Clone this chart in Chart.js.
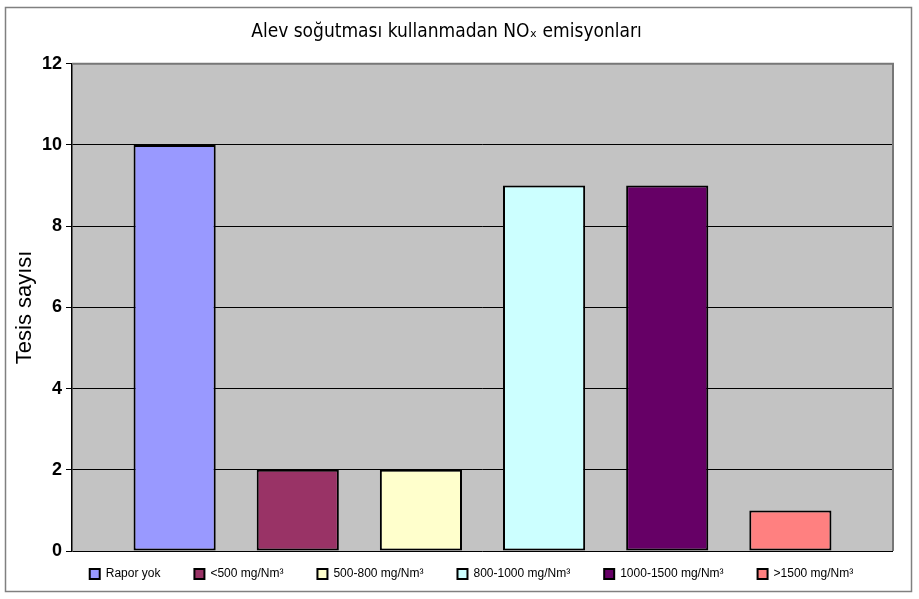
<!DOCTYPE html>
<html>
<head>
<meta charset="utf-8">
<script src="https://cdn.jsdelivr.net/npm/chart.js@4.4.1/dist/chart.umd.min.js"></script>
<style>
  html, body { margin: 0; padding: 0; background: #fff; }
  #wrap { width: 919px; height: 599px; }
</style>
</head>
<body>
<div id="wrap"><canvas id="chart" width="919" height="599"></canvas></div>
<script>
// emission classes (each one is its own series, as in the original chart)
const seriesLabels = ['Rapor yok', '<500 mg/Nm³', '500-800 mg/Nm³', '800-1000 mg/Nm³', '1000-1500 mg/Nm³', '>1500 mg/Nm³'];
const seriesValues = [10, 2, 2, 9, 9, 1];
const seriesColors = ['#9999ff', '#993366', '#ffffcc', '#ccffff', '#660066', '#ff8080'];
const yTicks = [0, 2, 4, 6, 8, 10, 12];

const FONT = "'Liberation Sans', Arial, sans-serif";

// gray plot background and the outer frame
const frame = {
    id: 'frame',
    afterLayout(chart) {
        // pull the legend up close to the plot and a bit to the right
        const lg = chart.legend;
        lg.top -= 17; lg.bottom -= 17;
        lg.left += 25; lg.right += 25;
    },
    beforeDraw(chart) {
        const { ctx, chartArea: a } = chart;
        ctx.save();
        ctx.fillStyle = '#fff';
        ctx.fillRect(0, 0, chart.width, chart.height);
        ctx.fillStyle = '#c3c3c3';
        ctx.fillRect(a.left, a.top, a.right - a.left, a.bottom - a.top);
        ctx.strokeStyle = '#808080';
        ctx.lineWidth = 1.5;
        ctx.strokeRect(5.5, 7.5, 906, 584);
        ctx.restore();
    },
    afterDatasetsDraw(chart) {
        const { ctx, chartArea: a } = chart;
        ctx.save();
        ctx.strokeStyle = '#777';
        ctx.lineWidth = 2;
        ctx.beginPath();
        ctx.moveTo(a.left, a.top);
        ctx.lineTo(a.right, a.top);
        ctx.lineTo(a.right, a.bottom);
        ctx.stroke();
        ctx.restore();
    }
};

new Chart(document.getElementById('chart'), {
    type: 'bar',
    data: {
        labels: [''],
        datasets: seriesLabels.map((label, i) => ({
            label: label,
            data: [seriesValues[i]],
            backgroundColor: seriesColors[i],
            borderColor: '#000',
            borderWidth: 2,
            borderSkipped: false,
            categoryPercentage: 0.9,
            barPercentage: 0.667
        }))
    },
    options: {
        responsive: false,
        animation: false,
        layout: { padding: { top: 11, right: 26, bottom: -8, left: 0 } },
        plugins: {
            title: {
                display: true,
                text: 'Alev soğutması kullanmadan NOₓ emisyonları',
                color: '#000',
                font: { family: "'Liberation Sans Narrow', 'DejaVu Sans Condensed', 'Liberation Sans', Arial, sans-serif", size: 19, weight: 'normal' },
                padding: { top: 10, bottom: 20 }
            },
            legend: {
                position: 'bottom',
                labels: {
                    color: '#000',
                    boxWidth: 10,
                    boxHeight: 10,
                    padding: 34,
                    font: { family: FONT, size: 12 }
                }
            },
            tooltip: { enabled: false }
        },
        scales: {
            x: { display: false },
            y: {
                min: 0,
                max: 12,
                afterBuildTicks(scale) { scale.ticks = yTicks.map(v => ({ value: v })); },
                afterFit(scale) { scale.width = 72; },
                ticks: {
                    color: '#000',
                    padding: 4,
                    font: { family: FONT, size: 18, weight: 'bold' }
                },
                grid: {
                    color: '#000',
                    lineWidth: 1,
                    tickLength: 6,
                    drawTicks: true
                },
                border: { display: true, color: '#000', width: 1.5 },
                title: {
                    display: true,
                    text: 'Tesis sayısı',
                    color: '#000',
                    padding: { top: 12, bottom: 0 },
                    font: { family: FONT, size: 22 }
                }
            }
        }
    },
    plugins: [frame]
});
</script>
</body>
</html>
